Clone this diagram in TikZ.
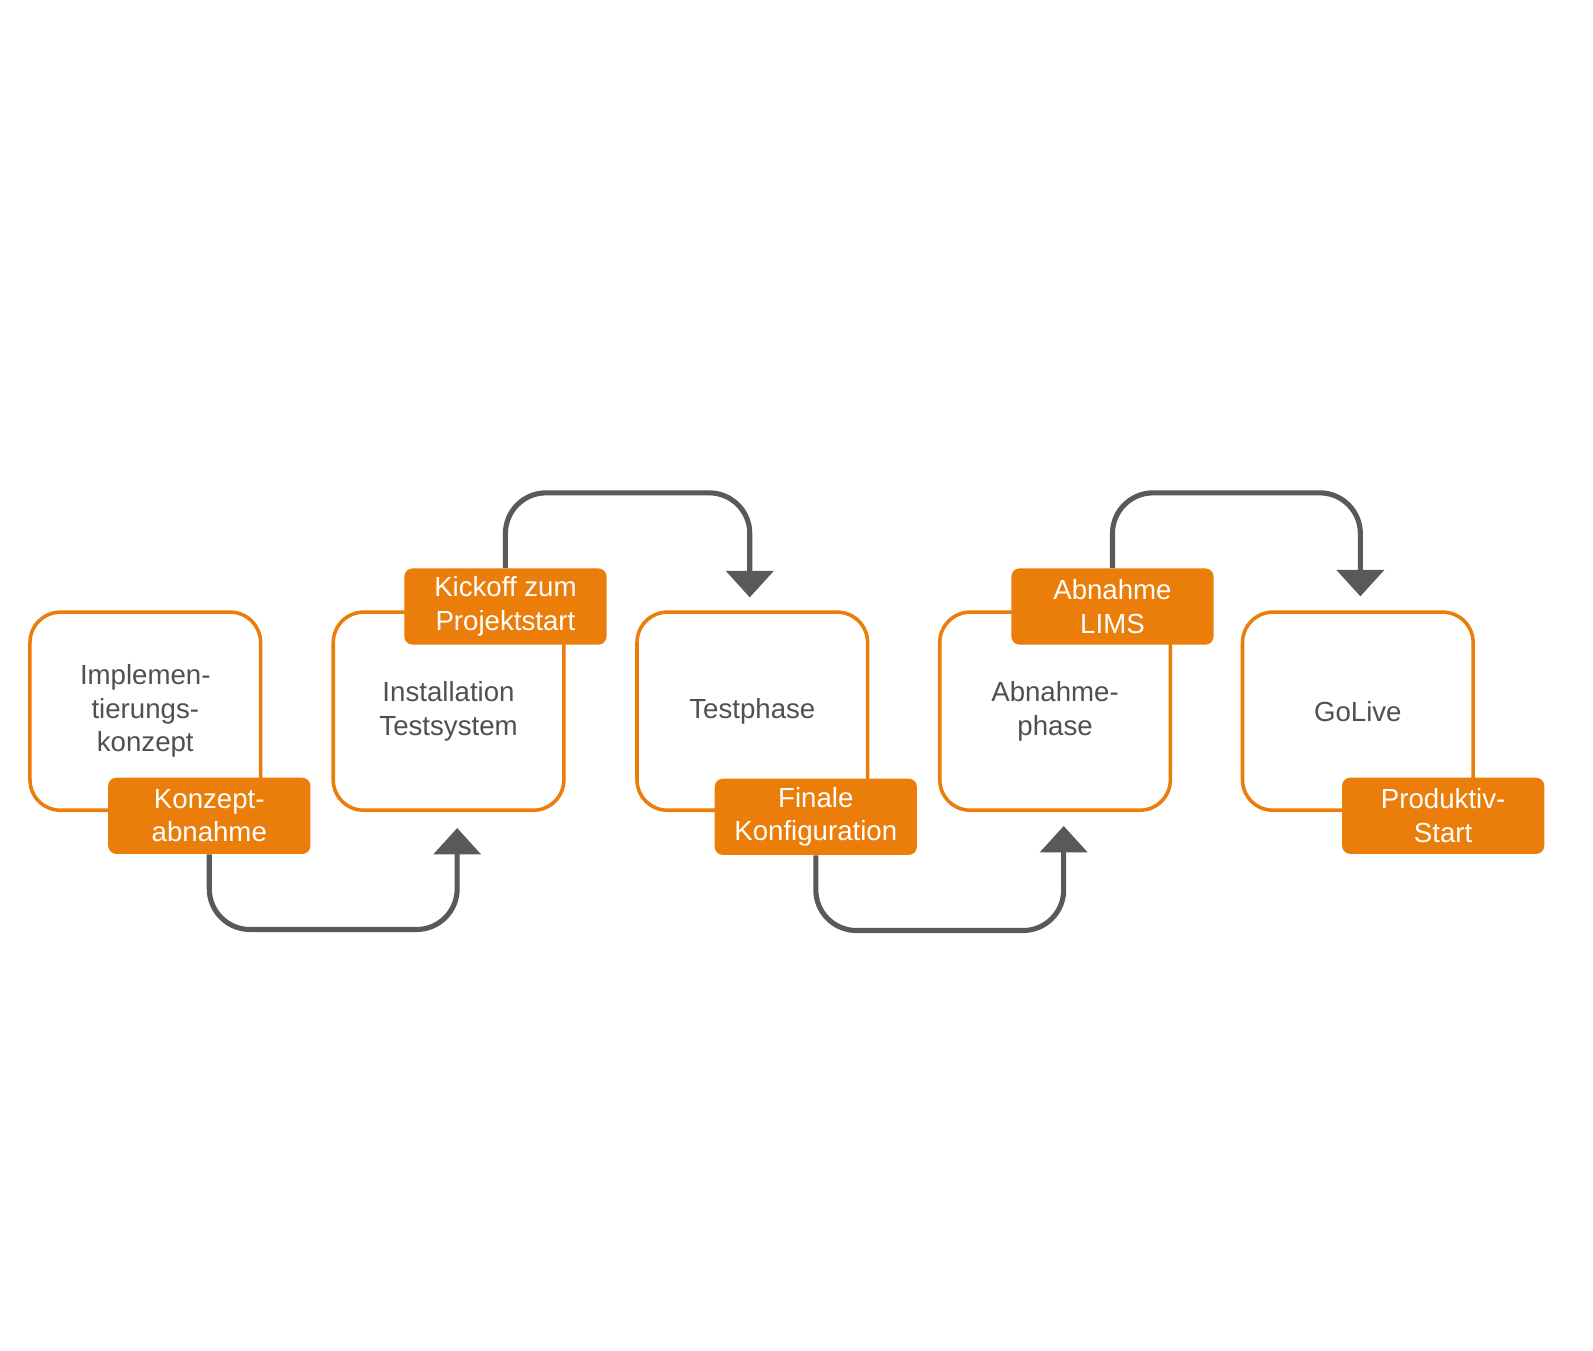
\documentclass[tikz,border=0pt]{standalone}
\usepackage{fontspec}
\setmainfont{Liberation Sans}
\usetikzlibrary{arrows.meta}
\definecolor{brand}{RGB}{235,125,10}
\definecolor{darkline}{RGB}{89,89,89}
\definecolor{txt}{RGB}{80,80,80}

\begin{document}
\begin{tikzpicture}[x=0.5pt, y=-0.5pt,
  every node/.style={font=\fontsize{13.6}{16.5}\selectfont, align=center},
  phase/.style={draw=brand, line width=1.75pt, rounded corners=15pt, fill=white,
                text=txt, minimum width=113.5pt, minimum height=97.5pt},
  mstone/.style={fill=brand, rounded corners=4pt, text=white, inner sep=0pt,
                 minimum width=99.5pt, minimum height=37.5pt},
  conn/.style={draw=darkline, line width=2.5pt, rounded corners=20pt,
               -{Triangle[length=13pt, width=23pt]}}]

  \useasboundingbox[fill=white] (0,0) rectangle (1568,1329);

  \node[phase] (b1) at (143,700)  {Implemen-\\tierungs-\\konzept};
  \node[phase] (b2) at (441.5,700) {Installation\\Testsystem};
  \node[phase] (b3) at (740.5,700) {Testphase};
  \node[phase] (b4) at (1038.5,700) {Abnahme-\\phase};
  \node[phase] (b5) at (1336.5,700) {GoLive};

  \node[mstone] (k1) at (206,803)  {Konzept-\\abnahme};
  \node[mstone] (k2) at (497.5,597) {Kickoff zum\\Projektstart};
  \node[mstone] (k3) at (803,804)  {Finale\\Konfiguration};
  \node[mstone] (k4) at (1095,597) {Abnahme\\LIMS};
  \node[mstone] (k5) at (1420.5,803) {Produktiv-\\Start};

  \coordinate (e1) at (450,815);
  \coordinate (e2) at (738,588);
  \coordinate (e3) at (1047,813);
  \coordinate (e4) at (1339,587);

  \draw[conn] (k1.south) -- ++(0,74) -| (e1);
  \draw[conn] (k2.north) -- ++(0,-74) -| (e2);
  \draw[conn] (k3.south) -- ++(0,74) -| (e3);
  \draw[conn] (k4.north) -- ++(0,-74) -| (e4);
\end{tikzpicture}
\end{document}
